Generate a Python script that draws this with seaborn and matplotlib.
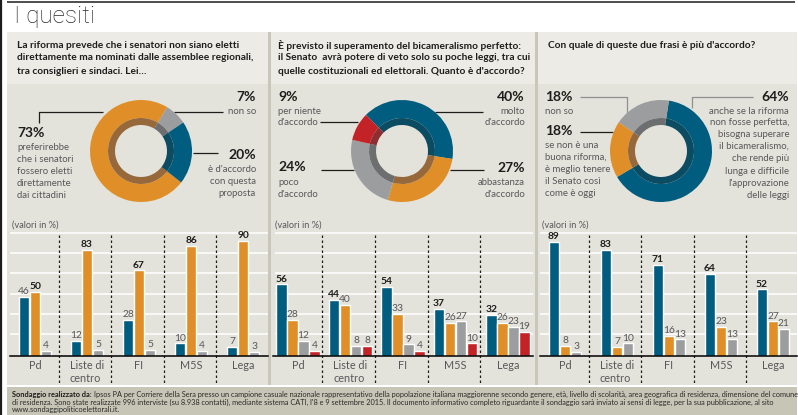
"""I quesiti: three donuts with bars by party below."""
import pandas as pd
import matplotlib.pyplot as plt
from matplotlib.patches import Rectangle
import seaborn as sns

W, H = 798, 415
FONT = "Lato"

# --- Data ---
partiti = ["Pd", "Liste di\ncentro", "FI", "M5S", "Lega"]

donut1_values = [73, 7, 20]
donut2_values = [40, 27, 24, 9]
donut3_values = [64, 18, 18]

p1_accordo = [46, 12, 28, 10, 7]
p1_elettivi = [50, 83, 67, 86, 90]
p1_nonso = [4, 5, 5, 4, 3]

p2_molto = [56, 44, 54, 37, 32]
p2_abbastanza = [28, 40, 33, 26, 26]
p2_poco = [12, 8, 9, 27, 23]
p2_niente = [4, 8, 4, 10, 19]

p3_superare = [89, 83, 71, 64, 52]
p3_tenere = [8, 7, 16, 23, 27]
p3_nonso = [3, 10, 13, 13, 21]

# --- Colours ---
BLUE, ORANGE, GREY, RED = "#005d7f", "#e08e27", "#9c9d9f", "#c32327"
BLUE_D, ORANGE_D, GREY_D, RED_D = "#0b4c62", "#96683a", "#6d6e70", "#8e2e30"
PANEL, HEADER, SEP, FOOTER = "#e3e2db", "#ecebe6", "#c8c7ba", "#c6c5b6"
DARK, SOFT = "#1d1d1b", "#58585a"

sns.set_style("white")
plt.rcParams["font.family"] = [FONT, "DejaVu Sans"]

fig = plt.figure(figsize=(W / 100, H / 100), dpi=100, facecolor="white")

# overlay in pixel coordinates for the page furniture and the texts
page = fig.add_axes([0, 0, 1, 1])
page.set_xlim(0, W)
page.set_ylim(H, 0)
page.axis("off")


def rect(x0, y0, x1, y1, color):
    page.add_patch(Rectangle((x0, y0), x1 - x0, y1 - y0, color=color, lw=0))


def line(xs, ys, color=DARK, lw=0.9, **kw):
    page.plot(xs, ys, color=color, lw=lw, solid_capstyle="butt", **kw)


def txt(x, y, s, size=6.9, weight="normal", color=SOFT, ha="left"):
    return page.text(x, y, s, fontsize=size, fontweight=weight, color=color,
                     ha=ha, va="center")


def block(x, ys, lines, ha="left"):
    for y, s in zip(ys, lines):
        txt(x, y, s, ha=ha)


def add_axes_px(x0, y0, x1, y1):
    ax = fig.add_axes([x0 / W, 1 - y1 / H, (x1 - x0) / W, (y1 - y0) / H])
    ax.patch.set_alpha(0)
    return ax


# --- Page background ---
rect(7, 32, 797, 84, HEADER)
rect(7, 84, 797, 385, PANEL)
rect(268, 32, 271, 385, SEP)
rect(535, 32, 538, 385, SEP)
rect(7, 387, 797, 415, FOOTER)
line([7, 795], [2.5, 2.5], lw=1.1)
line([0.8, 0.8], [0, H], lw=1.6)

title = txt(14, 17, "I quesiti", size=17.5, weight="light", color="#2b2a29")
title.set_fontfamily(["Roboto", "DejaVu Sans"])

# --- Questions ---
questions = [
    (17, ["La riforma prevede che i senatori non siano eletti",
          "direttamente ma nominati dalle assemblee regionali,",
          "tra consiglieri e sindaci. Lei…"]),
    (278, ["È previsto il superamento del bicameralismo perfetto:",
           "il Senato  avrà potere di veto solo su poche leggi, tra cui",
           "quelle costituzionali ed elettorali. Quanto è d'accordo?"]),
    (548, ["Con quale di queste due frasi è più d'accordo?"]),
]
for x, rows in questions:
    for y, s in zip([45.5, 58, 71], rows):
        txt(x, y, s, size=7.3, weight="bold", color=DARK)


# --- Donuts ---
def donut(cx, values, colors, inner, start):
    r = 51
    ax = add_axes_px(cx - r, 151 - r, cx + r, 151 + r)
    ax.pie(values, colors=colors, startangle=start, counterclock=False,
           radius=1, wedgeprops={"width": 18 / r, "lw": 0})
    ax.pie(values, colors=inner, startangle=start, counterclock=False,
           radius=33 / r, wedgeprops={"width": 7 / r, "lw": 0})
    ax.set_xlim(-1, 1)
    ax.set_ylim(-1, 1)


donut(141, donut1_values, [ORANGE, GREY, BLUE], [ORANGE_D, GREY_D, BLUE_D], -38)
donut(402, donut2_values, [BLUE, ORANGE, GREY, RED],
      [BLUE_D, ORANGE_D, GREY_D, RED_D], 135)
donut(661, donut3_values, [BLUE, ORANGE, GREY], [BLUE_D, ORANGE_D, GREY_D], 81)

PCT = {"size": 10, "weight": "bold", "color": DARK}

# panel 1 labels
txt(256, 97, f"{donut1_values[1]}%", ha="right", **PCT)
block(256, [111], ["non so"], ha="right")
line([174, 223], [112, 112])
txt(256, 155, f"{donut1_values[2]}%", ha="right", **PCT)
block(256, [169, 181, 193], ["è d'accordo", "con questa", "proposta"], ha="right")
line([193, 218], [153, 153])
txt(17, 133, f"{donut1_values[0]}%", **PCT)
block(17, [147, 159, 171, 183, 195],
      ["preferirebbe", "che i senatori", "fossero eletti", "direttamente", "dai cittadini"])
line([39, 39, 103], [123, 112, 112])

# panel 2 labels
txt(278, 97, f"{donut2_values[3]}%", **PCT)
block(278, [111, 122], ["per niente", "d'accordo"])
line([320, 358], [122, 122])
txt(278, 167, f"{donut2_values[2]}%", **PCT)
block(278, [182, 194], ["poco", "d'accordo"])
line([321, 354], [170, 170])
txt(525, 97, f"{donut2_values[0]}%", ha="right", **PCT)
block(525, [111, 122], ["molto", "d'accordo"], ha="right")
line([435, 483], [112, 112])
txt(525, 168, f"{donut2_values[1]}%", ha="right", **PCT)
block(525, [182, 194], ["abbastanza", "d'accordo"], ha="right")
line([450, 484], [170, 170])

# panel 3 labels
txt(545, 97, f"{donut3_values[2]}%", **PCT)
block(545, [111], ["non so"])
line([580, 627, 627], [97, 97, 113], color="#8f9092")
txt(545, 131, f"{donut3_values[1]}%", **PCT)
block(545, [145, 157, 169, 181, 193],
      ["se non è una", "buona riforma,", "è meglio tenere", "il Senato così", "come è oggi"])
line([580, 613], [132, 132])
txt(789, 97, f"{donut3_values[0]}%", ha="right", **PCT)
block(789, [111, 122, 134, 146, 158, 171, 183, 195],
      ["anche se la riforma", "non fosse perfetta,", "bisogna superare", "il bicameralismo,",
       "che rende più", "lunga e difficile", "l'approvazione", "delle leggi"], ha="right")
line([753, 692, 692], [97, 97, 108], color="#8f9092")


# --- Bars ---
def bars(series, colors, centre0, step, x0, x1, width, dividers, grid_x0):
    for y in [232.7, 252.7, 273, 294, 314.3, 334.3]:
        line([grid_x0, x1], [y, y], color="white", lw=1.1)
    for x in dividers:
        line([x, x], [235, 384], lw=0.9, linestyle=(0, (2, 2)))
    txt(x0 + 2, 225, "(valori in %)", size=6.6)

    rows = []
    for name, values in series.items():
        for partito, v in zip(partiti, values):
            rows.append({"partito": partito, "risposta": name, "valore": v})
    df = pd.DataFrame(rows)

    ax = add_axes_px(x0, 226, x1, 356)
    sns.barplot(data=df, x="partito", y="valore", hue="risposta", order=partiti,
                hue_order=list(series), palette=colors, width=width, gap=0.08,
                saturation=1, legend=False, ax=ax)
    ax.set_xlim((x0 - centre0) / step, (x1 - centre0) / step)
    ax.set_ylim(0, 130 / 1.28)
    ax.set_xlabel("")
    ax.set_ylabel("")
    ax.set_yticks([])
    sns.despine(ax=ax, left=True)
    ax.spines["bottom"].set_color("black")
    ax.spines["bottom"].set_linewidth(1.1)
    ax.tick_params(axis="x", length=0, pad=3)
    for lab in ax.get_xticklabels():
        lab.set_fontsize(7.8)
        lab.set_color(SOFT)
        lab.set_multialignment("left")

    tops = df.groupby("partito")["valore"].max()
    for container, values in zip(ax.containers, series.values()):
        labels = ax.bar_label(container, padding=0.5, fontsize=7.4, color=SOFT)
        for lab, partito, v in zip(labels, partiti, values):
            if v == tops[partito]:
                lab.set_fontweight("bold")
                lab.set_color(DARK)


bars({"accordo": p1_accordo, "elettivi": p1_elettivi, "non so": p1_nonso},
     [BLUE, ORANGE, GREY], 35, 52, 10, 268, 33 / 52, [59, 111, 164, 216], 10)
bars({"molto": p2_molto, "abbastanza": p2_abbastanza, "poco": p2_poco, "niente": p2_niente},
     [BLUE, ORANGE, GREY, RED], 298, 52.5, 273, 533, 44 / 52.5, [322, 375, 428, 480], 275)
bars({"superare": p3_superare, "tenere": p3_tenere, "non so": p3_nonso},
     [BLUE, ORANGE, GREY], 565, 52, 540, 797, 33 / 52, [589, 641, 694, 746], 540)

# --- Footer ---
head = txt(12, 394, "Sondaggio realizzato da:", size=5.35, weight="bold", color=DARK)
fig.canvas.draw()
head_end = page.transData.inverted().transform(
    head.get_window_extent(fig.canvas.get_renderer()))[1][0]
txt(head_end + 2, 394,
    "Ipsos PA per Corriere della Sera presso un campione casuale nazionale rappresentativo "
    "della popolazione italiana maggiorenne secondo genere, età, livello di scolarità, "
    "area geografica di residenza, dimensione del comune", size=5.35, color="#2b2a29")
txt(12, 402,
    "di residenza. Sono state realizzate 996 interviste (su 8.938 contatti), mediante sistema CATI, "
    "l'8 e 9 settembre 2015. Il documento informativo completo riguardante il sondaggio sarà inviato "
    "ai sensi di legge, per la sua pubblicazione, al sito", size=5.35, color="#2b2a29")
txt(12, 409, "www.sondaggipoliticoelettorali.it.", size=5.35, color="#2b2a29")

fig.savefig("out.png", dpi=100)
plt.close(fig)
